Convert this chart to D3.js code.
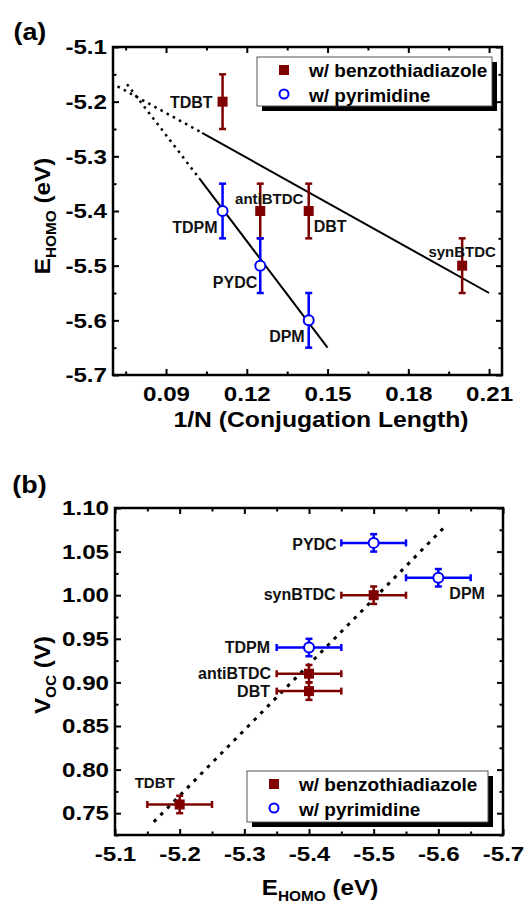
<!DOCTYPE html>
<html>
<head>
<meta charset="utf-8">
<script src="https://d3js.org/d3.v7.min.js"></script>
<style>
body { margin: 0; background: #fff; }
svg { font-family: "Liberation Sans", Arial, sans-serif; font-weight: bold; }
.frame { fill: none; stroke: #000; stroke-width: 2.5px; }
.tick line { stroke: #000; stroke-width: 2px; }
.tick text { font-size: 21px; font-weight: bold; fill: #000; }
.fit { fill: none; stroke: #000; stroke-width: 2px; }
.fitdot { fill: none; stroke: #000; stroke-width: 2.5px; stroke-dasharray: 2.5,4.5; }
.lbl { font-size: 16px; fill: #111; }
.lbl.small { font-size: 15px; }
</style>
</head>
<body>
<svg id="chart" width="526" height="905"></svg>
<script>
// ---- data ----
var benzoNames = ["TDBT", "antiBTDC", "DBT", "synBTDC"];
var benzoInvN  = [0.111, 0.125, 0.143, 0.200];
var benzoHomo  = [-5.2, -5.4, -5.4, -5.5];
var benzoVoc   = [0.76, 0.91, 0.89, 1.00];

var pyrNames = ["TDPM", "PYDC", "DPM"];
var pyrInvN  = [0.111, 0.125, 0.143];
var pyrHomo  = [-5.4, -5.5, -5.6];
var pyrVoc   = [0.94, 1.06, 1.02];

var homoErr = 0.05;
var vocErr = 0.01;

// linear fits in (a): dotted extrapolation then solid part
var benzoFitX = [0.072, 0.1034, 0.21];
var benzoFitY = [-5.172, -5.257, -5.55];
var pyrFitX = [0.0755, 0.1023, 0.15];
var pyrFitY = [-5.168, -5.34, -5.65];
// guide line in (b)
var vocFitX = [-5.16, -5.608];
var vocFitY = [0.74, 1.077];

var xTicksA = [0.09, 0.12, 0.15, 0.18, 0.21];
var xMinorA = [0.075, 0.105, 0.135, 0.165, 0.195];
var yTicksA = [-5.1, -5.2, -5.3, -5.4, -5.5, -5.6, -5.7];
var yMinorA = [-5.15, -5.25, -5.35, -5.45, -5.55, -5.65];
var xTicksB = [-5.1, -5.2, -5.3, -5.4, -5.5, -5.6, -5.7];
var xMinorB = [-5.15, -5.25, -5.35, -5.45, -5.55, -5.65];
var yTicksB = [0.75, 0.80, 0.85, 0.90, 0.95, 1.00, 1.05, 1.10];
var yMinorB = [0.725, 0.775, 0.825, 0.875, 0.925, 0.975, 1.025, 1.075];

var red = "#7f0000", blue = "#0000ff";
var wide = 1.15; // the original's axis lettering is a bit wider than Arial
var svg = d3.select("#chart");

function zip(names, xs, ys) {
  return names.map(function(n, i){ return {name: n, x: xs[i], y: ys[i]}; });
}
function pts(xs, ys) {
  return xs.map(function(v, i){ return [v, ys[i]]; });
}
// widen text along its own baseline
function stretch(sel, k) {
  sel.each(function() {
    var t = d3.select(this), x = +t.attr("x") || 0, y = +t.attr("y") || 0;
    t.attr("x", 0).attr("y", 0).attr("transform", "translate(" + x + "," + y + ") scale(" + k + ",1)");
  });
}

// draw frame with inward ticks on all four sides
function frame(g, x, y, xt, xm, yt, ym, xfmt, yfmt) {
  var x0 = x.range()[0], x1 = x.range()[1], y0 = y.range()[0], y1 = y.range()[1];
  g.append("g").attr("transform", "translate(0," + y0 + ")")
    .call(d3.axisBottom(x).tickValues(xt).tickSize(-6).tickPadding(11).tickFormat(xfmt));
  g.append("g").attr("transform", "translate(0," + y0 + ")")
    .call(d3.axisBottom(x).tickValues(xm).tickSize(-3.5).tickFormat(""));
  g.append("g").attr("transform", "translate(0," + y1 + ")")
    .call(d3.axisTop(x).tickValues(xt).tickSize(-6).tickFormat(""));
  g.append("g").attr("transform", "translate(0," + y1 + ")")
    .call(d3.axisTop(x).tickValues(xm).tickSize(-3.5).tickFormat(""));
  g.append("g").attr("transform", "translate(" + x0 + ",0)")
    .call(d3.axisLeft(y).tickValues(yt).tickSize(-6).tickPadding(6).tickFormat(yfmt));
  g.append("g").attr("transform", "translate(" + x0 + ",0)")
    .call(d3.axisLeft(y).tickValues(ym).tickSize(-3.5).tickFormat(""));
  g.append("g").attr("transform", "translate(" + x1 + ",0)")
    .call(d3.axisRight(y).tickValues(yt).tickSize(-6).tickFormat(""));
  g.append("g").attr("transform", "translate(" + x1 + ",0)")
    .call(d3.axisRight(y).tickValues(ym).tickSize(-3.5).tickFormat(""));
  g.selectAll(".domain").remove();
  stretch(g.selectAll(".tick text"), wide);
  g.append("rect").attr("class", "frame")
    .attr("x", x0).attr("y", y1).attr("width", x1 - x0).attr("height", y0 - y1);
}

function legend(g, bx, by, bw, bh) {
  g.append("rect").attr("x", bx + 5).attr("y", by + 5).attr("width", bw).attr("height", bh).attr("fill", "#000");
  g.append("rect").attr("x", bx).attr("y", by).attr("width", bw).attr("height", bh)
    .attr("fill", "#fff").attr("stroke", "#555").attr("stroke-width", 1);
  g.append("rect").attr("x", bx + 22).attr("y", by + 8).attr("width", 10).attr("height", 10).attr("fill", red);
  g.append("circle").attr("cx", bx + 27).attr("cy", by + 37).attr("r", 4.5)
    .attr("fill", "#fff").attr("stroke", blue).attr("stroke-width", 2);
  g.append("text").attr("x", bx + 52).attr("y", by + 20).style("font-size", "19px").text("w/ benzothiadiazole");
  g.append("text").attr("x", bx + 52).attr("y", by + 45).style("font-size", "19px").text("w/ pyrimidine");
}

// title with a subscript; rotated for the y axes
function title(g, cx, cy, rot, main, sub, rest) {
  var t = g.append("text")
    .attr("transform", "translate(" + cx + "," + cy + ")" + (rot ? " rotate(-90)" : "") + " scale(1.1,1)")
    .attr("text-anchor", "middle").style("font-size", "22px");
  t.append("tspan").text(main);
  t.append("tspan").attr("dy", 6).style("font-size", "14px").text(sub);
  t.append("tspan").attr("dy", -6).text(rest);
}

function vErr(g, x, y, data, err, color) {
  var s = g.append("g").attr("stroke", color).attr("stroke-width", 2.5);
  data.forEach(function(d) {
    var px = x(d.x), top = y(d.y + err), bot = y(d.y - err);
    s.append("line").attr("x1", px).attr("x2", px).attr("y1", top).attr("y2", bot);
    s.append("line").attr("x1", px - 3.5).attr("x2", px + 3.5).attr("y1", top).attr("y2", top);
    s.append("line").attr("x1", px - 3.5).attr("x2", px + 3.5).attr("y1", bot).attr("y2", bot);
  });
}
function hErr(g, x, y, data, err, color) {
  var s = g.append("g").attr("stroke", color).attr("stroke-width", 2.5);
  data.forEach(function(d) {
    var py = y(d.y), l = x(d.x - err), r = x(d.x + err);
    s.append("line").attr("x1", l).attr("x2", r).attr("y1", py).attr("y2", py);
    s.append("line").attr("x1", l).attr("x2", l).attr("y1", py - 3.5).attr("y2", py + 3.5);
    s.append("line").attr("x1", r).attr("x2", r).attr("y1", py - 3.5).attr("y2", py + 3.5);
  });
}
function marks(g, x, y, benzo, pyr) {
  g.selectAll(".sq").data(benzo).enter().append("rect")
    .attr("x", function(d){ return x(d.x) - 5; }).attr("y", function(d){ return y(d.y) - 5; })
    .attr("width", 10).attr("height", 10).attr("fill", red);
  g.selectAll(".ci").data(pyr).enter().append("circle")
    .attr("cx", function(d){ return x(d.x); }).attr("cy", function(d){ return y(d.y); })
    .attr("r", 5).attr("fill", "#fff").attr("stroke", blue).attr("stroke-width", 2);
}
function labels(g, x, y, data, offs) {
  data.forEach(function(d) {
    var o = offs[d.name];
    g.append("text").attr("class", "lbl" + (o[3] ? " small" : ""))
      .attr("x", x(d.x) + o[0]).attr("y", y(d.y) + o[1]).attr("text-anchor", o[2]).text(d.name);
  });
}

// ================= panel (a) =================
var ga = svg.append("g");
var xa = d3.scaleLinear().domain([0.0703, 0.2148]).range([113, 502]);
var ya = d3.scaleLinear().domain([-5.7, -5.1]).range([375, 47]);

ga.append("text").attr("x", 12).attr("y", 40).attr("transform", "scale(1.12,1)")
  .style("font-size", "24px").text("(a)");
frame(ga, xa, ya, xTicksA, xMinorA, yTicksA, yMinorA,
  function(d){ return d.toFixed(2); }, function(d){ return d.toFixed(1); });

var lineA = d3.line().x(function(d){ return xa(d[0]); }).y(function(d){ return ya(d[1]); });
[[benzoFitX, benzoFitY], [pyrFitX, pyrFitY]].forEach(function(f) {
  var p = pts(f[0], f[1]);
  ga.append("path").attr("class", "fitdot").attr("d", lineA(p.slice(0, 2)));
  ga.append("path").attr("class", "fit").attr("d", lineA(p.slice(1)));
});

legend(ga, 257, 57, 235, 49);

var benzoA = zip(benzoNames, benzoInvN, benzoHomo);
var pyrA = zip(pyrNames, pyrInvN, pyrHomo);
vErr(ga, xa, ya, benzoA, homoErr, red);
vErr(ga, xa, ya, pyrA, homoErr, blue);
marks(ga, xa, ya, benzoA, pyrA);
labels(ga, xa, ya, benzoA.concat(pyrA), {
  TDBT: [-10, 6, "end"], antiBTDC: [9, -7, "middle", 1], DBT: [5, 21, "start"],
  synBTDC: [0, -9, "middle", 1], TDPM: [-5, 22, "end"], PYDC: [-3, 22, "end"], DPM: [-4, 22, "end"]
});

title(ga, 50, 216, true, "E", "HOMO", " (eV)");
var ta = ga.append("text").attr("x", 321).attr("y", 427).attr("text-anchor", "middle")
  .style("font-size", "21.5px").text("1/N (Conjugation Length)");
stretch(ta, wide);

// ================= panel (b) =================
var gb = svg.append("g");
var xb = d3.scaleLinear().domain([-5.1, -5.7]).range([115, 503]);
var yb = d3.scaleLinear().domain([0.725, 1.10]).range([835, 508]);

gb.append("text").attr("x", 11).attr("y", 493).attr("transform", "scale(1.12,1)")
  .style("font-size", "24px").text("(b)");
frame(gb, xb, yb, xTicksB, xMinorB, yTicksB, yMinorB,
  function(d){ return d.toFixed(1); }, function(d){ return d.toFixed(2); });

var lineB = d3.line().x(function(d){ return xb(d[0]); }).y(function(d){ return yb(d[1]); });
gb.append("path").attr("class", "fitdot").style("stroke-width", "3px").style("stroke-dasharray", "3.5,6")
  .attr("d", lineB(pts(vocFitX, vocFitY)));

legend(gb, 247, 771, 241, 51);

var benzoB = zip(benzoNames, benzoHomo, benzoVoc);
var pyrB = zip(pyrNames, pyrHomo, pyrVoc);
hErr(gb, xb, yb, benzoB, homoErr, red);
hErr(gb, xb, yb, pyrB, homoErr, blue);
vErr(gb, xb, yb, benzoB, vocErr, red);
vErr(gb, xb, yb, pyrB, vocErr, blue);
marks(gb, xb, yb, benzoB, pyrB);
labels(gb, xb, yb, benzoB.concat(pyrB), {
  TDBT: [-5, -16, "end", 1], antiBTDC: [-38, 5, "end"], DBT: [-39, 6, "end"],
  synBTDC: [-38, 5, "end"], TDPM: [-39, 5, "end"], PYDC: [-37, 7, "end"], DPM: [11, 21, "start"]
});

title(gb, 50, 675, true, "V", "OC", " (V)");
title(gb, 320, 895, false, "E", "HOMO", " (eV)");
</script>
</body>
</html>
